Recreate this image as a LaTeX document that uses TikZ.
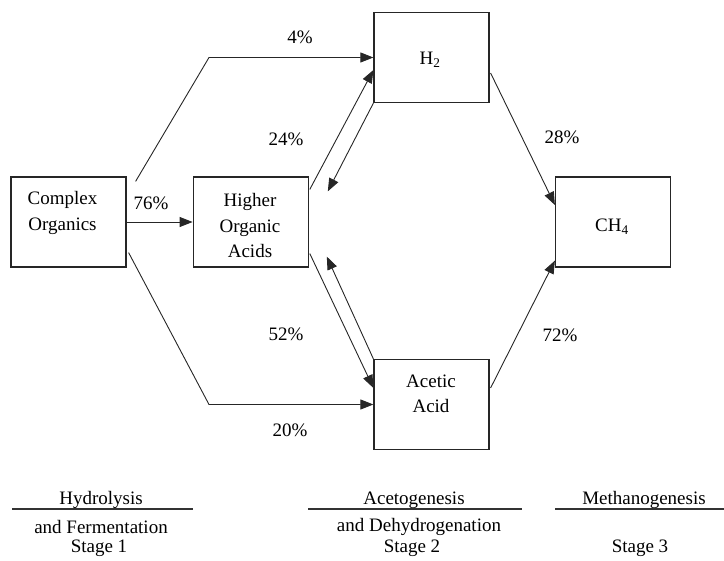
\documentclass[tikz,border=0pt]{standalone}
\usepackage{fontspec}
\setmainfont{Liberation Serif}
\usepackage{tikz}
\usetikzlibrary{positioning, arrows.meta, calc}

\begin{document}
\begin{tikzpicture}[
        x=1pt, y=-1pt,
        box/.style={rectangle, draw=black!85, line width=1.2pt, minimum width=115pt, minimum height=90pt, inner sep=0pt},
        lbl/.style={font=\fontsize{19}{25.5}\selectfont, align=center, inner sep=0pt},
        flow/.style={draw=black!85, line width=0.9pt, -{Triangle[length=13pt, width=10pt]}},
        rule/.style={draw=black!80, line width=1.3pt}
    ]
        \useasboundingbox (0,0) rectangle (724,561);

        % Boxes
        \node[box] (co) at (68.5,222) {};
        \node[box, right=66pt of co] (hoa) {};
        \node[box] (h2) at (431.5,57.5) {};
        \node[box] (ac) at (431.5,404.5) {};
        \node[box] (ch4) at (613,222) {};

        % Box texts
        \node[lbl] (co-txt) at (62.5,213) {Complex\\Organics};
        \node[lbl] (hoa-txt) at (250,226) {Higher\\Organic\\Acids};
        \node[lbl] (h2-txt) at (430,60) {H\textsubscript{2}};
        \node[lbl] (ac-txt) at (431,394) {Acetic\\Acid};
        \node[lbl] (ch4-txt) at (612,227) {CH\textsubscript{4}};

        % Flows
        \draw[flow] ($(co.north east)+(9,5)$) -- (209,57.5) -- (h2.west);
        \draw[flow] (co.east) -- (hoa.west);
        \draw[flow] ($(co.south east)+(2,-15)$) -- (209,404.5) -- (ac.west);
        \draw[flow] ($(hoa.north east)+(1,13)$) -- ($(h2.west)+(0,12.5)$);
        \draw[flow] (h2.south west) -- ($(hoa.north east)+(19,15)$);
        \draw[flow] ($(hoa.south east)+(1,-14)$) -- ($(ac.west)+(0,-16.5)$);
        \draw[flow] (ac.north west) -- ($(hoa.south east)+(18,-11)$);
        \draw[flow] ($(h2.east)+(1,15.5)$) -- ($(ch4.west)+(0,-17)$);
        \draw[flow] ($(ac.east)+(1,-16.5)$) -- ($(ch4.south west)+(0,-7)$);

        % Percentages
        \node[lbl] (p4) at (300,37) {4\%};
        \node[lbl] (p76) at (151,203) {76\%};
        \node[lbl] (p20) at (290,430) {20\%};
        \node[lbl] (p24) at (286,139) {24\%};
        \node[lbl] (p52) at (286,334) {52\%};
        \node[lbl] (p28) at (562,137) {28\%};
        \node[lbl] (p72) at (560,335) {72\%};

        % Stages
        \node[lbl] (s1a) at (101,500) {Hydrolysis};
        \draw[rule] (12,509) -- (193,509);
        \node[lbl] (s1b) at (101,527) {and Fermentation};
        \node[lbl] (s1c) at (99,548) {Stage 1};

        \node[lbl] (s2a) at (414,500) {Acetogenesis};
        \draw[rule] (308,509) -- (522,509);
        \node[lbl] (s2b) at (419,527) {and Dehydrogenation};
        \node[lbl] (s2c) at (412,548) {Stage 2};

        \node[lbl] (s3a) at (644,500) {Methanogenesis};
        \draw[rule] (555,509) -- (724,509);
        \node[lbl] (s3c) at (640,548) {Stage 3};

    \end{tikzpicture}
\end{document}
